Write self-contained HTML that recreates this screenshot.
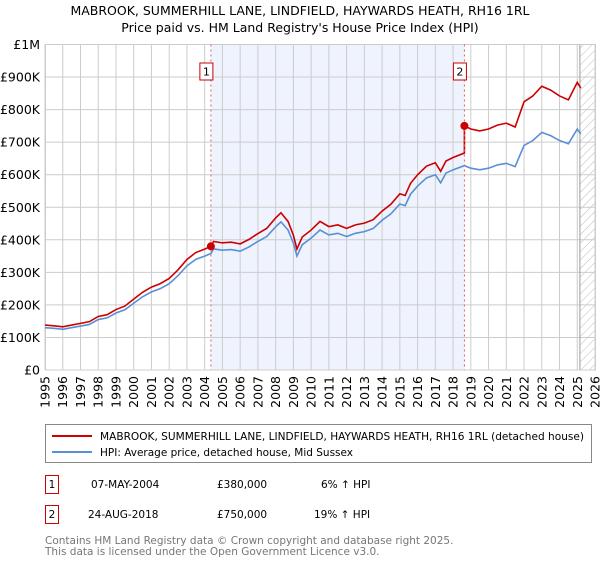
<!DOCTYPE html>
<html><head><meta charset="utf-8"><style>
body{margin:0;background:#fff;font-family:"DejaVu Sans","Liberation Sans",sans-serif;}
svg text{font-family:"DejaVu Sans","Liberation Sans",sans-serif;}
</style></head><body>
<svg id="chart" width="600" height="560" xmlns="http://www.w3.org/2000/svg">
<text x="300" y="15" font-size="12.5" text-anchor="middle">MABROOK, SUMMERHILL LANE, LINDFIELD, HAYWARDS HEATH, RH16 1RL</text>
<text x="300" y="32" font-size="12.5" text-anchor="middle">Price paid vs. HM Land Registry's House Price Index (HPI)</text>
<defs><pattern id="hatch" patternUnits="userSpaceOnUse" width="6" height="6" patternTransform="rotate(45)"><line x1="0" y1="0" x2="0" y2="6" stroke="#bbb" stroke-width="1"/></pattern></defs>
<g id="plot"></g>
<g>
<rect x="45.5" y="424.5" width="546" height="38" fill="#fff" stroke="#888"/>
<line x1="52" y1="436" x2="92" y2="436" stroke="#cc0000" stroke-width="2"/>
<text x="100" y="440" font-size="10.5" textLength="484" lengthAdjust="spacingAndGlyphs">MABROOK, SUMMERHILL LANE, LINDFIELD, HAYWARDS HEATH, RH16 1RL (detached house)</text>
<line x1="52" y1="452" x2="92" y2="452" stroke="#5b8fd4" stroke-width="2"/>
<text x="100" y="456" font-size="10.5" textLength="253" lengthAdjust="spacingAndGlyphs">HPI: Average price, detached house, Mid Sussex</text>
</g>
<g font-size="10.5">
<rect x="45.5" y="475.5" width="13" height="18" fill="#fff" stroke="#cc0000"/>
<text x="52" y="488" text-anchor="middle">1</text>
<text x="91" y="488">07-MAY-2004</text>
<text x="217" y="488">£380,000</text>
<text x="321" y="488">6% ↑ HPI</text>
</g>
<g font-size="10.5">
<rect x="45.5" y="505.5" width="13" height="18" fill="#fff" stroke="#cc0000"/>
<text x="52" y="518" text-anchor="middle">2</text>
<text x="88" y="518">24-AUG-2018</text>
<text x="217" y="518">£750,000</text>
<text x="314" y="518">19% ↑ HPI</text>
</g>
<text x="45" y="544" font-size="10.5" fill="#777">Contains HM Land Registry data © Crown copyright and database right 2025.</text>
<text x="45" y="555" font-size="10.5" fill="#777">This data is licensed under the Open Government Licence v3.0.</text>
</svg>
<script>
const hpiYears=[1995,1995.5,1996,1996.5,1997,1997.5,1998,1998.5,1999,1999.5,2000,2000.5,2001,2001.5,2002,2002.5,2003,2003.5,2004,2004.35,2004.5,2005,2005.5,2006,2006.5,2007,2007.5,2008,2008.3,2008.7,2009,2009.2,2009.5,2010,2010.5,2011,2011.5,2012,2012.5,2013,2013.5,2014,2014.5,2015,2015.3,2015.6,2016,2016.5,2017,2017.3,2017.6,2018,2018.64,2019,2019.5,2020,2020.5,2021,2021.5,2022,2022.5,2023,2023.5,2024,2024.5,2025,2025.2];
const hpiValues=[130,128,125,130,135,140,155,160,175,185,205,225,240,250,265,290,320,340,350,358,372,368,370,365,378,395,410,440,455,430,390,350,385,405,430,415,420,410,420,425,435,460,480,510,505,540,565,590,600,575,605,615,628,620,615,620,630,635,625,690,705,730,720,705,695,740,725];
const saleYears=[2004.35,2018.64];
const salePrices=[380,750];
const yTicks=[0,100,200,300,400,500,600,700,800,900,1000];
const yLabels=["£0","£100K","£200K","£300K","£400K","£500K","£600K","£700K","£800K","£900K","£1M"];
const xTicks=[1995,1996,1997,1998,1999,2000,2001,2002,2003,2004,2005,2006,2007,2008,2009,2010,2011,2012,2013,2014,2015,2016,2017,2018,2019,2020,2021,2022,2023,2024,2025,2026];

const X0=45,X1=595,Y0=370,Y1=44.5;
const xs=y=>X0+(y-1995)/(2026-1995)*(X1-X0);
const ys=v=>Y0-v/1000*(Y0-Y1);
const NS="http://www.w3.org/2000/svg";
const g=document.getElementById('plot');
function mk(t,a,p){const e=document.createElementNS(NS,t);for(const k in a)e.setAttribute(k,a[k]);(p||g).appendChild(e);return e;}
function hpiAt(t){for(let i=0;i<hpiYears.length-1;i++){if(t>=hpiYears[i]&&t<=hpiYears[i+1]){const f=(t-hpiYears[i])/(hpiYears[i+1]-hpiYears[i]);return hpiValues[i]+f*(hpiValues[i+1]-hpiValues[i]);}}return hpiValues[hpiValues.length-1];}

const shade=mk('rect',{x:xs(saleYears[0]),y:Y1,width:xs(saleYears[1])-xs(saleYears[0]),height:Y0-Y1,fill:'#eef3fd'});


const hat=mk('rect',{x:xs(2025.15),y:Y1,width:X1-xs(2025.15),height:Y0-Y1,fill:'url(#hatch)'});


yTicks.forEach((v,i)=>{
 const l=mk('line',{x1:X0,x2:X1,y1:ys(v),y2:ys(v),stroke:'#ccc','stroke-width':1});
 
 
 const t=mk('text',{x:X0-5,y:ys(v)+4.5,'font-size':12.5,'text-anchor':'end'});t.textContent=yLabels[i];
 
 
});
xTicks.forEach(y=>{
 const l=mk('line',{x1:xs(y),x2:xs(y),y1:Y1,y2:Y0,stroke:'#ccc','stroke-width':1});
 
 
 const t=mk('text',{x:0,y:0,'font-size':12.5,'text-anchor':'end',transform:`translate(${xs(y)+4.5},${Y0+6}) rotate(-90)`});t.textContent=y;
 
 
});
const vl=mk('line',{x1:xs(2025.15),x2:xs(2025.15),y1:Y1,y2:Y0,stroke:'#999','stroke-width':1});


const box=mk('rect',{x:X0+0.5,y:Y1,width:X1-X0,height:Y0-Y1,fill:'none',stroke:'#ccc'});



const redPts=hpiYears.map((t,i)=>{const k=t<saleYears[1]?0:1;return [t,salePrices[k]*hpiValues[i]/hpiAt(saleYears[k])];});
redPts.push([saleYears[1]-0.001,salePrices[0]*hpiAt(saleYears[1])/hpiAt(saleYears[0])]);
redPts.sort((a,b)=>a[0]-b[0]);
const hpiLine=mk('polyline',{points:hpiYears.map((t,i)=>xs(t)+','+ys(hpiValues[i])).join(' '),fill:'none',stroke:'#5b8fd4','stroke-width':1.6});


const redLine=mk('polyline',{points:redPts.map(p=>xs(p[0])+','+ys(p[1])).join(' '),fill:'none',stroke:'#cc0000','stroke-width':1.6});



saleYears.forEach((t,i)=>{
 const l=mk('line',{x1:xs(t),x2:xs(t),y1:Y1,y2:Y0,stroke:'#e06060','stroke-width':1,'stroke-dasharray':'2,3'});
 
 
 const c=mk('circle',{cx:xs(t),cy:ys(salePrices[i]),r:4,fill:'#cc0000'});
 
 
 const r=mk('rect',{x:xs(t)-11,y:63,width:13,height:17,fill:'#fff',stroke:'#cc0000'});
 
 
 const tx=mk('text',{x:xs(t)-4.5,y:75.5,'font-size':11,'text-anchor':'middle'});tx.textContent=String(i+1);
 
 
});
</script>
</body></html>
